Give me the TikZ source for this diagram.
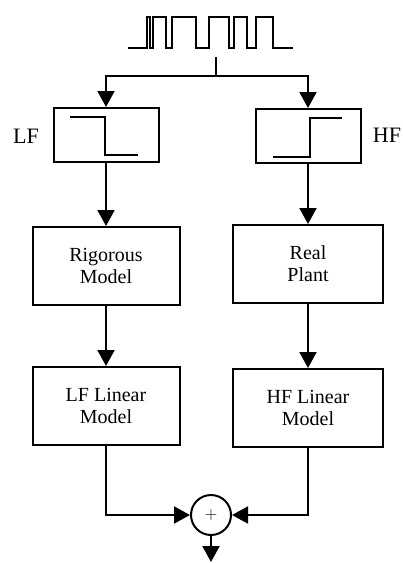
\documentclass[tikz,border=0pt]{standalone}
\usepackage{fontspec}
\setmainfont{Liberation Serif}
\usetikzlibrary{arrows.meta,calc}
\tikzset{
  filter/.style={draw,rectangle,minimum width=105pt,minimum height=54pt,inner sep=0pt},
  block/.style={draw,rectangle,minimum width=147pt,minimum height=78pt,align=center,
    font=\fontsize{20}{22}\selectfont},
  sum/.style={draw,circle,minimum size=40pt,inner sep=0pt,font=\fontsize{18}{18}\selectfont},
  tag/.style={font=\fontsize{22}{22}\selectfont}
}

\begin{document}
\begin{tikzpicture}[x=1pt,y=-1pt,>={Triangle[length=16pt,width=17pt]},line width=2pt]
  \useasboundingbox (0,0) rectangle (403,563);

  % input signal
  \draw (128,48) -- (147,48) |- (150,17) |- (153,48) |- (166,17) |- (172,48)
    |- (196,17) |- (209,48) |- (229,17) |- (234,48) |- (247,17) |- (256,48)
    |- (273,17) |- (293,48);
  \coordinate (tap) at (216,57);
  \coordinate (split) at (216,76);

  \node[filter] (lf) at (106,135) {};
  \node[filter] (hf) at (308,136) {};
  \node[tag] (lft) at (26,136) {LF};
  \node[tag] (hft) at (387,135) {HF};
  \draw ([shift={(-36,-18)}]lf.center) -- ++(35,0) -- ++(0,38) -- ++(33,0);
  \draw ([shift={(-35,21)}]hf.center) -- ++(37,0) -- ++(0,-39) -- ++(32,0);

  \node[block] (rig) at (106,266) {Rigorous\\Model};
  \node[block,minimum width=150pt] (plant) at (308,264) {Real\\Plant};
  \node[block] (lflin) at (106,406) {LF Linear\\Model};
  \node[block,minimum width=150pt] (hflin) at (308,408) {HF Linear\\Model};
  \node[sum] (sum) at (211,515) {$+$};
  \coordinate (out) at (211,562);

  \draw (tap) -- (split);
  \draw[->] (split) -| (lf.north);
  \draw[->] (split) -| (hf.north);
  \draw[->] (lf.south) -- (rig.north);
  \draw[->] (hf.south) -- (plant.north);
  \draw[->] (rig.south) -- (lflin.north);
  \draw[->] (plant.south) -- (hflin.north);
  \draw[->] (lflin.south) |- (sum.west);
  \draw[->] (hflin.south) |- (sum.east);
  \draw[->] (sum.south) -- (out);
\end{tikzpicture}
\end{document}
